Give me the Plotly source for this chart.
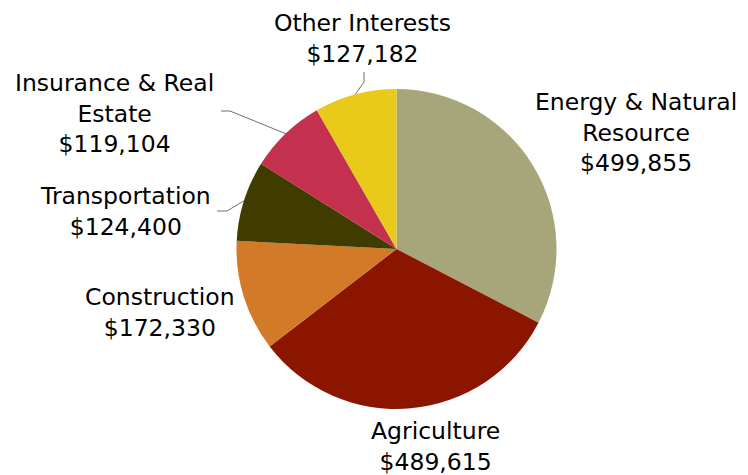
import math
import plotly.graph_objects as go

# ---- data ----
labels = ["Energy & Natural<br>Resource", "Agriculture", "Construction",
          "Transportation", "Insurance & Real<br>Estate", "Other Interests"]
values = [499855, 489615, 172330, 124400, 119104, 127182]
colors = ["#A7A67A", "#8C1500", "#D27A27", "#403C00", "#C3314E", "#E9C91A"]

# ---- layout constants (page pixels) ----
OFF = 8                      # browser body margin
W, H = 748 - OFF, 475 - OFF
CX, CY, R = 396.5, 249, 160  # pie centre / radius on the page
FS = 23.5
# label text centres (page px)
label_pos = [(636, 132), (435, 446), (159.5, 312), (125.5, 212),
             (114, 113), (362.5, 38)]
# leader: (elbow x, elbow y, end x, end y) or None
leaders = [None, None, None, (227, 211, 217, 211), (230, 111, 221, 111),
           (364, 82, 364, 72)]


def px(x):
    return (x - OFF) / W


def py(y):
    return 1 - (y - OFF) / H


fig = go.Figure(go.Pie(
    labels=labels,
    values=values,
    sort=False,
    direction="clockwise",
    rotation=0,
    marker=dict(colors=colors, line=dict(width=0)),
    textinfo="none",
    hovertemplate="%{label}<br>$%{value:,}<extra></extra>",
    domain=dict(x=[px(CX - R), px(CX + R)], y=[py(CY + R), py(CY - R)]),
    showlegend=False,
))

total = sum(values)
annotations = []
shapes = []
cum = 0
for lab, val, pos, ld in zip(labels, values, label_pos, leaders):
    mid = (cum + val / 2) / total * 2 * math.pi
    cum += val
    annotations.append(dict(
        x=px(pos[0]), y=py(pos[1]), xref="paper", yref="paper",
        text=f"{lab}<br>${val:,}", showarrow=False,
        xanchor="center", yanchor="middle", align="center",
        font=dict(family="DejaVu Sans", size=FS, color="#000000"),
    ))
    if ld:
        ex = CX + R * math.sin(mid)
        ey = CY - R * math.cos(mid)
        path = (f"M {px(ex)} {py(ey)} L {px(ld[0])} {py(ld[1])} "
                f"L {px(ld[2])} {py(ld[3])}")
        shapes.append(dict(type="path", path=path, xref="paper", yref="paper",
                           line=dict(color="#6E6E6E", width=1)))

fig.update_layout(
    width=W, height=H,
    margin=dict(l=0, r=0, t=0, b=0),
    paper_bgcolor="white",
    plot_bgcolor="white",
    font=dict(family="DejaVu Sans"),
    annotations=annotations,
    shapes=shapes,
)

fig.write_html("out.html")
